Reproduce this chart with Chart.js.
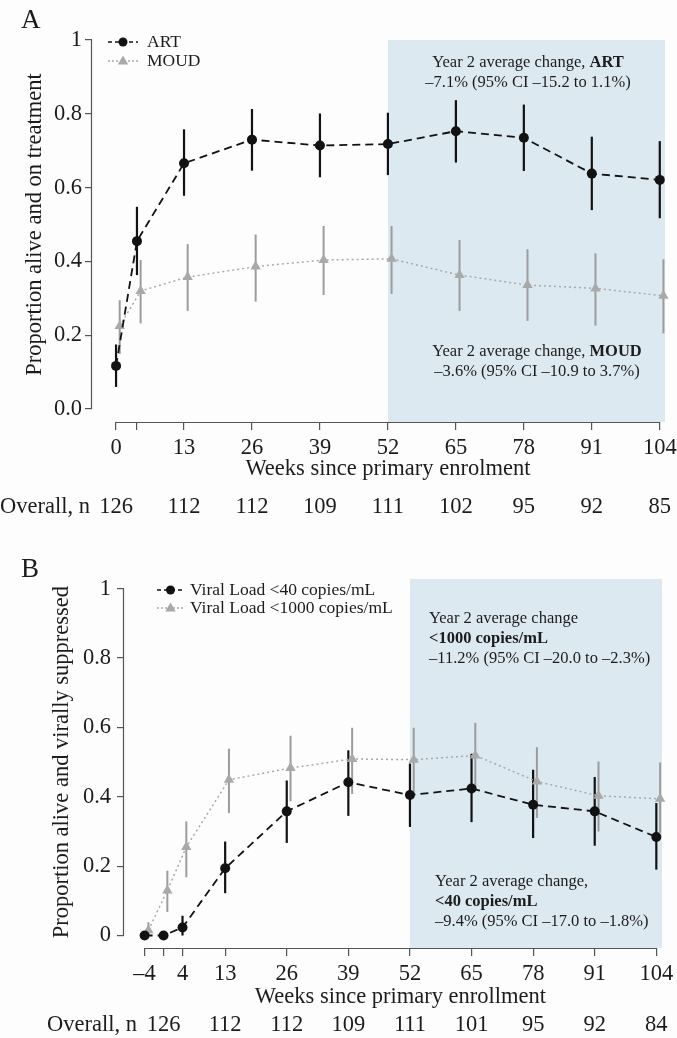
<!DOCTYPE html>
<html>
<head>
<meta charset="utf-8">
<script src="https://cdn.jsdelivr.net/npm/chart.js@4.4.0/dist/chart.umd.min.js"></script>
<style>
  body { margin: 0; background: #fdfdfd; }
  canvas { display: block; }
</style>
</head>
<body>
<canvas id="chartA" width="677" height="530"></canvas>
<canvas id="chartB" width="677" height="508"></canvas>
<script>
const FONT = "'Liberation Serif', 'Times New Roman', serif";
const INK = '#1c1c1c';
const AXIS = '#555555';
const SHADE = '#dde9f0';
const DARK = '#121212';
const GREY = '#a9a9a9';
const TEXT_SIZE = 22.5;

// ---- Panel A: alive and on treatment ----
const weeksA = [0, 4, 13, 26, 39, 52, 65, 78, 91, 104];
const artMean = [0.117, 0.455, 0.666, 0.730, 0.714, 0.718, 0.753, 0.735, 0.638, 0.621];
const artLow = [0.060, 0.363, 0.578, 0.646, 0.628, 0.634, 0.668, 0.645, 0.539, 0.517];
const artHigh = [0.175, 0.548, 0.758, 0.813, 0.801, 0.803, 0.837, 0.825, 0.738, 0.726];
const moudMean = [0.225, 0.320, 0.358, 0.386, 0.404, 0.407, 0.363, 0.336, 0.327, 0.307];
const moudLow = [0.149, 0.232, 0.266, 0.291, 0.309, 0.312, 0.266, 0.239, 0.226, 0.205];
const moudHigh = [0.295, 0.404, 0.447, 0.473, 0.496, 0.496, 0.458, 0.433, 0.422, 0.406];
const xTicksA = [0, 4, 13, 26, 39, 52, 65, 78, 91, 104];
const xLabelsA = ['0', '', '13', '26', '39', '52', '65', '78', '91', '104'];
const yTicksA = [0, 0.2, 0.4, 0.6, 0.8, 1];
const yLabelsA = ['0.0', '0.2', '0.4', '0.6', '0.8', '1'];
const countWeeks = [0, 13, 26, 39, 52, 65, 78, 91, 104];
const countsA = [126, 112, 112, 109, 111, 102, 95, 92, 85];

// ---- Panel B: alive and virally suppressed ----
const weeksB = [-4, 0, 4, 13, 26, 39, 52, 65, 78, 91, 104];
const vl40Mean = [0, 0, 0.023, 0.194, 0.358, 0.442, 0.405, 0.424, 0.377, 0.358, 0.284];
const vl40Low = [0, 0, 0, 0.122, 0.267, 0.345, 0.313, 0.327, 0.281, 0.259, 0.190];
const vl40High = [0, 0, 0.057, 0.271, 0.447, 0.534, 0.496, 0.524, 0.478, 0.457, 0.382];
const vl1000Mean = [0.015, 0.130, 0.255, 0.449, 0.483, 0.509, 0.507, 0.519, 0.444, 0.403, 0.394];
const vl1000Low = [0, 0.068, 0.168, 0.353, 0.387, 0.408, 0.411, 0.420, 0.339, 0.300, 0.296];
const vl1000High = [0.038, 0.187, 0.329, 0.539, 0.576, 0.599, 0.599, 0.613, 0.543, 0.502, 0.499];
const xTicksB = [-4, 0, 4, 13, 26, 39, 52, 65, 78, 91, 104];
const xLabelsB = ['\u20134', '', '4', '13', '26', '39', '52', '65', '78', '91', '104'];
const yTicksB = [0, 0.2, 0.4, 0.6, 0.8, 1];
const yLabelsB = ['0', '0.2', '0.4', '0.6', '0.8', '1'];
const countsB = [126, 112, 112, 109, 111, 101, 95, 92, 84];

const year2Start = 52;

function points(weeks, values, shift) {
    return weeks.map((w, i) => ({ x: w + shift, y: values[i] }));
}

function font(size, bold) {
    return (bold ? 'bold ' : '') + size + 'px ' + FONT;
}

// draws a line of text made of [text, bold] parts
function drawParts(ctx, parts, x, y, size, align) {
    const widths = parts.map(p => {
        ctx.font = font(size, p[1]);
        return ctx.measureText(p[0]).width;
    });
    const total = widths.reduce((a, b) => a + b, 0);
    let cx = align === 'center' ? x - total / 2 : x;
    ctx.textAlign = 'left';
    ctx.textBaseline = 'middle';
    ctx.fillStyle = INK;
    parts.forEach((p, i) => {
        ctx.font = font(size, p[1]);
        ctx.fillText(p[0], cx, y);
        cx += widths[i];
    });
}

function drawMarker(ctx, style, x, y, r, color) {
    ctx.fillStyle = color;
    ctx.beginPath();
    if (style === 'triangle') {
        ctx.moveTo(x, y - r);
        ctx.lineTo(x + r * 0.95, y + r * 0.65);
        ctx.lineTo(x - r * 0.95, y + r * 0.65);
        ctx.closePath();
    } else {
        ctx.arc(x, y, r, 0, Math.PI * 2);
    }
    ctx.fill();
}

const decor = {
    id: 'decor',
    beforeDatasetsDraw(chart, args, p) {
        const ctx = chart.ctx;
        const area = chart.chartArea;
        const xs = chart.scales.x;
        const ys = chart.scales.y;
        ctx.save();
        // year 2 shading
        ctx.fillStyle = SHADE;
        const sx = xs.getPixelForValue(year2Start);
        ctx.fillRect(sx, area.top, area.right - sx, area.bottom - area.top);

        // axis lines over the tick range only
        ctx.strokeStyle = AXIS;
        ctx.lineWidth = 1.2;
        ctx.beginPath();
        ctx.moveTo(xs.getPixelForValue(p.xTicks[0]), area.bottom + 0.5);
        ctx.lineTo(xs.getPixelForValue(p.xTicks[p.xTicks.length - 1]), area.bottom + 0.5);
        ctx.moveTo(area.left - 0.5, ys.getPixelForValue(p.yTicks[0]));
        ctx.lineTo(area.left - 0.5, ys.getPixelForValue(p.yTicks[p.yTicks.length - 1]));
        ctx.stroke();

        // confidence intervals
        const sets = chart.data.datasets;
        for (let d = sets.length - 1; d >= 0; d--) {
            const ds = sets[d];
            ctx.strokeStyle = ds.errColor;
            ctx.lineWidth = ds.errWidth;
            ds.data.forEach((pt, i) => {
                const x = xs.getPixelForValue(pt.x);
                ctx.beginPath();
                ctx.moveTo(x, ys.getPixelForValue(ds.errLow[i]));
                ctx.lineTo(x, ys.getPixelForValue(ds.errHigh[i]));
                ctx.stroke();
            });
        }
        ctx.restore();
    },
    afterDraw(chart, args, p) {
        const ctx = chart.ctx;
        const xs = chart.scales.x;
        const ys = chart.scales.y;
        ctx.save();

        // panel letter
        ctx.fillStyle = INK;
        ctx.font = font(27);
        ctx.textAlign = 'left';
        ctx.textBaseline = 'middle';
        ctx.fillText(p.letter, 21, p.letterY);

        // axis titles, centred on the tick range
        ctx.font = font(TEXT_SIZE);
        ctx.textAlign = 'center';
        const xMid = (xs.getPixelForValue(p.xTicks[0]) + xs.getPixelForValue(p.xTicks[p.xTicks.length - 1])) / 2;
        ctx.fillText(p.xTitle, xMid, p.xTitleY);
        const yMid = (ys.getPixelForValue(p.yTicks[0]) + ys.getPixelForValue(p.yTicks[p.yTicks.length - 1])) / 2;
        ctx.save();
        ctx.translate(p.yTitleX, yMid);
        ctx.rotate(-Math.PI / 2);
        ctx.fillText(p.yTitle, 0, 0);
        ctx.restore();

        // numbers at risk
        ctx.textAlign = 'left';
        ctx.fillText('Overall, n', p.countLabelX, p.countY);
        ctx.textAlign = 'center';
        countWeeks.forEach((w, i) => {
            ctx.fillText(String(p.counts[i]), xs.getPixelForValue(w), p.countY);
        });

        // legend
        chart.data.datasets.forEach((ds, i) => {
            const y = p.legend.y + i * p.legend.gap;
            ctx.strokeStyle = ds.borderColor;
            ctx.lineWidth = 1.3;
            ctx.setLineDash(ds.pointStyle === 'triangle' ? [2, 2] : [4, 3]);
            ctx.beginPath();
            ctx.moveTo(p.legend.x0, y);
            ctx.lineTo(p.legend.x1, y);
            ctx.stroke();
            ctx.setLineDash([]);
            drawMarker(ctx, ds.pointStyle, (p.legend.x0 + p.legend.x1) / 2, y, ds.pointStyle === 'triangle' ? 5.5 : 4.5, ds.pointBackgroundColor);
            ctx.fillStyle = INK;
            ctx.font = font(p.legend.size);
            ctx.textAlign = 'left';
            ctx.textBaseline = 'middle';
            ctx.fillText(ds.label, p.legend.tx, y);
        });

        // year 2 notes
        p.notes.forEach(n => {
            n.lines.forEach((line, j) => {
                drawParts(ctx, line, n.x, n.y + j * 20, 16.5, n.align);
            });
        });
        ctx.restore();
    }
};

function makePanel(id, p, datasets) {
    return new Chart(document.getElementById(id), {
        type: 'line',
        data: { datasets: datasets },
        plugins: [decor],
        options: {
            responsive: false,
            animation: false,
            layout: { padding: p.padding },
            plugins: {
                legend: { display: false },
                tooltip: { enabled: false },
                decor: p
            },
            scales: {
                x: {
                    type: 'linear',
                    min: p.xMin,
                    max: p.xMax,
                    afterBuildTicks: s => { s.ticks = p.xTicks.map(v => ({ value: v })); },
                    afterFit: s => { s.height = 42; s.paddingLeft = 0; s.paddingRight = 0; },
                    grid: { drawOnChartArea: false, drawTicks: true, tickLength: 8, color: AXIS, lineWidth: 1.2 },
                    border: { display: false },
                    ticks: {
                        autoSkip: false,
                        maxRotation: 0,
                        padding: 5,
                        color: INK,
                        font: { family: FONT, size: TEXT_SIZE },
                        callback: (v, i) => p.xLabels[i]
                    }
                },
                y: {
                    type: 'linear',
                    min: p.yMin,
                    max: p.yMax,
                    afterBuildTicks: s => { s.ticks = p.yTicks.map(v => ({ value: v })); },
                    afterFit: s => { s.width = p.yWidth; s.paddingTop = 0; s.paddingBottom = 0; },
                    grid: { drawOnChartArea: false, drawTicks: true, tickLength: 7, color: AXIS, lineWidth: 1.2 },
                    border: { display: false },
                    ticks: {
                        autoSkip: false,
                        padding: p.yTickPad,
                        color: INK,
                        font: { family: FONT, size: TEXT_SIZE },
                        callback: (v, i) => p.yLabels[i]
                    }
                }
            }
        }
    });
}

function blackSeries(label, weeks, mean, low, high) {
    return {
        label: label,
        data: points(weeks, mean, 0),
        errLow: low,
        errHigh: high,
        errColor: DARK,
        errWidth: 2.2,
        borderColor: DARK,
        borderWidth: 1.8,
        borderDash: [8, 5],
        pointStyle: 'circle',
        pointRadius: 5,
        pointBackgroundColor: DARK,
        pointBorderColor: DARK,
        pointBorderWidth: 0,
        tension: 0,
        clip: false
    };
}

function greySeries(label, weeks, mean, low, high, shift) {
    return {
        label: label,
        data: points(weeks, mean, shift),
        errLow: low,
        errHigh: high,
        errColor: '#9c9c9c',
        errWidth: 2,
        borderColor: GREY,
        borderWidth: 1.5,
        borderDash: [2, 3],
        pointStyle: 'triangle',
        pointRadius: 6,
        pointBackgroundColor: GREY,
        pointBorderColor: GREY,
        pointBorderWidth: 0,
        tension: 0,
        clip: false
    };
}

makePanel('chartA', {
    letter: 'A', letterY: 21,
    padding: { top: 40, right: 12, bottom: 66, left: 0 },
    xMin: -4.6, xMax: 105, yMin: -0.035, yMax: 1,
    xTicks: xTicksA, xLabels: xLabelsA, yTicks: yTicksA, yLabels: yLabelsA,
    yWidth: 92, yTickPad: 3,
    xTitle: 'Weeks since primary enrolment', xTitleY: 469,
    yTitle: 'Proportion alive and on treatment', yTitleX: 35,
    countLabelX: 0, countY: 507, counts: countsA,
    legend: { x0: 108, x1: 138, tx: 147, y: 42, gap: 19, size: 17.5 },
    notes: [
        { x: 528, y: 63, align: 'center', lines: [
            [['Year 2 average change, ', false], ['ART', true]],
            [['\u20137.1% (95% CI \u201315.2 to 1.1%)', false]]
        ] },
        { x: 537, y: 352, align: 'center', lines: [
            [['Year 2 average change, ', false], ['MOUD', true]],
            [['\u20133.6% (95% CI \u201310.9 to 3.7%)', false]]
        ] }
    ]
}, [
    blackSeries('ART', weeksA, artMean, artLow, artHigh),
    greySeries('MOUD', weeksA, moudMean, moudLow, moudHigh, 0.7)
]);

makePanel('chartB', {
    letter: 'B', letterY: 40,
    padding: { top: 49, right: 15, bottom: 48, left: 0 },
    xMin: -8.35, xMax: 105.2, yMin: -0.036, yMax: 1.028,
    xTicks: xTicksB, xLabels: xLabelsB, yTicks: yTicksB, yLabels: yLabelsB,
    yWidth: 124, yTickPad: 6,
    xTitle: 'Weeks since primary enrollment', xTitleY: 467,
    yTitle: 'Proportion alive and virally suppressed', yTitleX: 62,
    countLabelX: 47, countY: 495, counts: countsB,
    legend: { x0: 157, x1: 184, tx: 190, y: 60, gap: 18, size: 17.5 },
    notes: [
        { x: 429, y: 89, align: 'left', lines: [
            [['Year 2 average change', false]],
            [['<1000 copies/mL', true]],
            [['\u201311.2% (95% CI \u201320.0 to \u20132.3%)', false]]
        ] },
        { x: 435, y: 352, align: 'left', lines: [
            [['Year 2 average change,', false]],
            [['<40 copies/mL', true]],
            [['\u20139.4% (95% CI \u201317.0 to \u20131.8%)', false]]
        ] }
    ]
}, [
    blackSeries('Viral Load <40 copies/mL', weeksB, vl40Mean, vl40Low, vl40High),
    greySeries('Viral Load <1000 copies/mL', weeksB, vl1000Mean, vl1000Low, vl1000High, 0.8)
]);
</script>
</body>
</html>
